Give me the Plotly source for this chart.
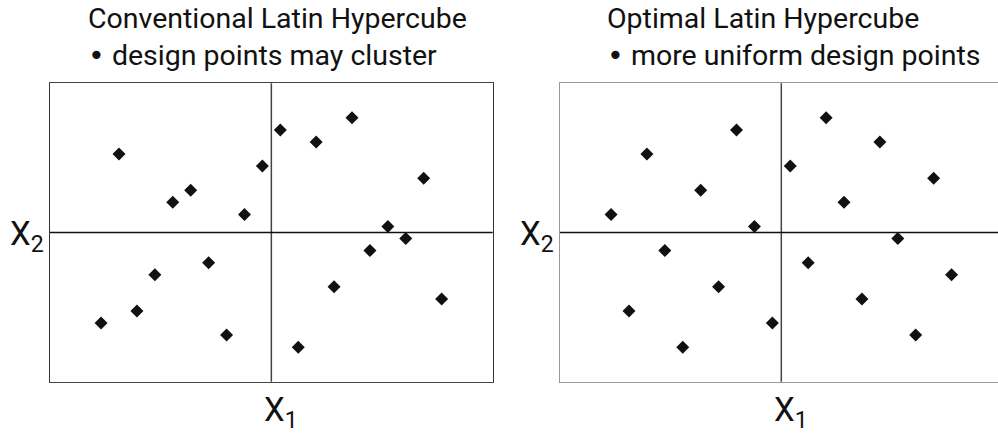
import plotly.graph_objects as go

# Latin hypercube designs, 20 levels per factor (level index 1..20)
conv_x1 = [2, 11, 13, 15, 10, 6, 5, 19, 9, 17, 18, 16, 7, 4, 14, 20, 3, 1, 8, 12]
conv_x2 = [17, 19, 18, 20, 16, 14, 13, 15, 12, 11, 10, 9, 8, 7, 6, 5, 4, 3, 2, 1]

opt_x1 = [13, 8, 16, 3, 11, 19, 6, 14, 1, 9, 17, 4, 12, 20, 7, 15, 2, 10, 18, 5]
opt_x2 = [20, 19, 18, 17, 16, 15, 14, 13, 12, 11, 10, 9, 8, 7, 6, 5, 4, 3, 2, 1]

bullet = "<span style='font-family:DejaVu Sans'>•</span>"
titles = ["Conventional Latin Hypercube<br>" + bullet + " design points may cluster",
          "Optimal Latin Hypercube<br>" + bullet + " more uniform design points"]

W, H = 998, 437
FONT = "Roboto"


def px_x(p):
    return p / W


def px_y(p):
    return 1 - p / H


fig = go.Figure()

marker = dict(symbol="diamond", size=10, color="#111111")
fig.add_trace(go.Scatter(x=conv_x1, y=conv_x2, mode="markers", marker=marker,
                         xaxis="x", yaxis="y", showlegend=False, hoverinfo="skip"))
fig.add_trace(go.Scatter(x=opt_x1, y=opt_x2, mode="markers", marker=marker,
                         xaxis="x2", yaxis="y2", showlegend=False, hoverinfo="skip"))

mid = (min(conv_x1) + max(conv_x1)) / 2
lo, hi_l = mid - 12.35, mid + 12.35
hi_r = lo + (W - 560) / 17.92
ylo, yhi = mid - 12.36, mid + 12.36

ydom = [px_y(381.7), px_y(83.3)]
common = dict(showgrid=False, zeroline=False, showticklabels=False, ticks="")

fig.update_layout(
    width=W, height=H,
    margin=dict(l=0, r=0, t=0, b=0),
    paper_bgcolor="white", plot_bgcolor="white",
    font=dict(family=FONT, color="#111111"),
    xaxis=dict(domain=[px_x(50), px_x(492.7)], range=[lo, hi_l], anchor="y",
               showline=True, linecolor="#444444", linewidth=1.5, mirror=True, **common),
    yaxis=dict(domain=ydom, range=[ylo, yhi], anchor="x",
               showline=True, linecolor="#333333", linewidth=1.5, mirror=True, **common),
    xaxis2=dict(domain=[px_x(560), 1], range=[lo, hi_r], anchor="y2",
                showline=True, linecolor="#999999", linewidth=1.5, mirror=True, **common),
    yaxis2=dict(domain=ydom, range=[ylo, yhi], anchor="x2",
                showline=True, linecolor="#999999", linewidth=1.5, mirror=False, **common),
)

# quadrant dividers
for xr, yr in [("x", "y"), ("x2", "y2")]:
    fig.add_shape(type="line", xref=xr, yref=yr + " domain", x0=mid, x1=mid, y0=0, y1=1,
                  line=dict(color="#444444", width=1.5))
    fig.add_shape(type="line", xref=xr + " domain", yref=yr, x0=0, x1=1, y0=mid, y1=mid,
                  line=dict(color="#111111", width=1.5))

# titles
for text, x0 in zip(titles, [86, 605]):
    fig.add_annotation(text=text, xref="paper", yref="paper", x=px_x(x0), y=px_y(0),
                       xanchor="left", yanchor="top", align="left", showarrow=False,
                       font=dict(size=28.5, family=FONT, color="#111111"))

# axis labels
for x0 in [270.7, 781]:
    fig.add_annotation(text="X<sub>1</sub>", xref="paper", yref="paper", x=px_x(x0 + 10),
                       y=px_y(412), xanchor="center", yanchor="middle", showarrow=False,
                       font=dict(size=33, family=FONT, color="#111111"))
for x0 in [27, 537]:
    fig.add_annotation(text="X<sub>2</sub>", xref="paper", yref="paper", x=px_x(x0),
                       y=px_y(236), xanchor="center", yanchor="middle", showarrow=False,
                       font=dict(size=33, family=FONT, color="#111111"))

fig.write_html("out.html", config={"displayModeBar": False, "staticPlot": True},
               post_script="document.body.style.margin='0';document.body.style.overflow='hidden';")
